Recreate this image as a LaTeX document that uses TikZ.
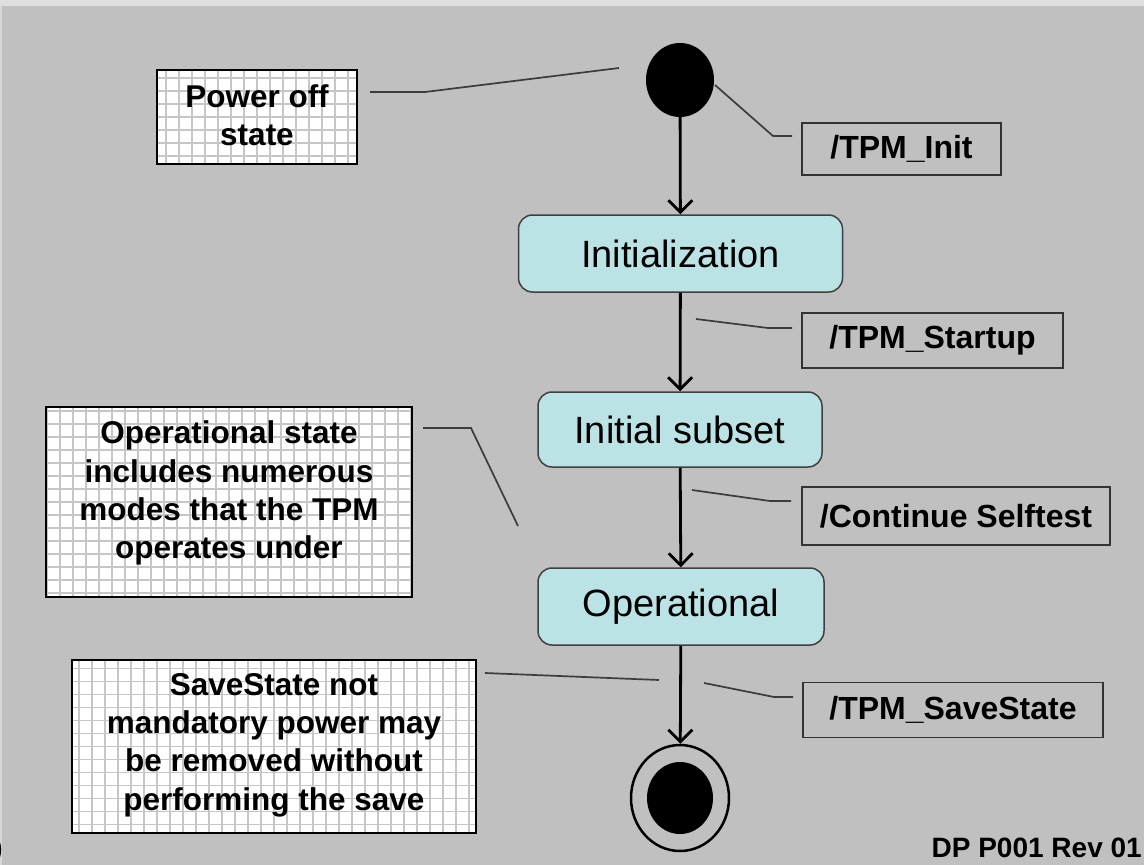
\documentclass[tikz,border=0pt]{standalone}
\usepackage{fontspec}
\setmainfont{Liberation Sans}
\usetikzlibrary{arrows.meta,shapes.geometric}
\definecolor{bg}{RGB}{192,192,192}
\definecolor{topstrip}{RGB}{223,223,223}
\definecolor{sidestrip}{RGB}{215,215,215}
\definecolor{statefill}{RGB}{187,226,229}
\definecolor{leader}{RGB}{60,60,60}
\definecolor{gridc}{RGB}{198,198,198}
\begin{document}
\begin{tikzpicture}[x=1pt,y=-1pt,
  state/.style={draw=black!75, line width=1.5pt, fill=statefill, rounded corners=14pt, inner sep=0pt, font=\fontsize{38}{42}\selectfont},
  callout/.style={draw=black!80, line width=1.5pt, inner sep=0pt, font=\bfseries\fontsize{32}{36}\selectfont},
  gridnote/.style={draw=black, line width=1.5pt, fill=white, inner sep=0pt,
    path picture={\draw[gridc, line width=1.2pt, step=13pt] (path picture bounding box.south west) grid (path picture bounding box.north east);}},
  notetext/.style={align=center, inner sep=0pt, font=\bfseries\fontsize{31.5}{38.3}\selectfont},
  flow/.style={line width=2.8pt, -{Straight Barb[length=12pt,width=24pt]}},
  lead/.style={draw=leader, line width=1.7pt},
]
% background
\fill[bg] (0,0) rectangle (1144,865);
\useasboundingbox (0,0) rectangle (1144,865);
\fill[topstrip] (0,0) rectangle (1144,6);
\fill[sidestrip] (0,6) rectangle (2,865);

% initial and final pseudo-states
\node[ellipse, fill=black, minimum width=68pt, minimum height=74pt, inner sep=0pt] (init) at (680,80) {};
\node[ellipse, draw=black, line width=2.5pt, minimum width=98pt, minimum height=106pt, inner sep=0pt] (final) at (680,798) {};
\node[ellipse, fill=black, minimum width=66pt, minimum height=72pt, inner sep=0pt] (finalin) at (680,798) {};

% states
\node[state, minimum width=324pt, minimum height=77pt] (s1) at (680.5,253.5) {Initialization};
\node[state, minimum width=284pt, minimum height=75pt] (s2) at (680,429.5) {Initial subset};
\node[state, minimum width=286pt, minimum height=77pt] (s3) at (681,606.5) {Operational};

% transitions
\draw[flow] (init) -- (s1);
\draw[flow] (s1) -- (s2);
\draw[flow] (s2) -- (s3);
\draw[flow] (s3) -- (final);

% callouts (right)
\node[callout, minimum width=199pt, minimum height=52pt] (c1) at (901.5,149) {/TPM\_Init};
\node[callout, minimum width=261pt, minimum height=55pt] (c2) at (932.5,340.5) {/TPM\_Startup};
\node[callout, minimum width=308pt, minimum height=58pt] (c3) at (956,516) {/Continue Selftest};
\node[callout, minimum width=300pt, minimum height=55pt] (c4) at (953,710) {/TPM\_SaveState};

\coordinate (c1a) at (715,85);  \coordinate (c1b) at (773,136); \coordinate (c1c) at (792,136);
\coordinate (c2a) at (696,319); \coordinate (c2b) at (768,328); \coordinate (c2c) at (792,328);
\coordinate (c3a) at (692,490); \coordinate (c3b) at (770,501); \coordinate (c3c) at (791,501);
\coordinate (c4a) at (704,683); \coordinate (c4b) at (774,697); \coordinate (c4c) at (793,697);
\draw[lead] (c1a) -- (c1b) -- (c1c);
\draw[lead] (c2a) -- (c2b) -- (c2c);
\draw[lead] (c3a) -- (c3b) -- (c3c);
\draw[lead] (c4a) -- (c4b) -- (c4c);

% notes (left)
\node[gridnote, minimum width=200pt, minimum height=94pt] (n1) at (257,117) {};
\node[notetext] (n1t) at (257,115) {Power off\\state};
\node[gridnote, minimum width=366pt, minimum height=190pt] (n2) at (229,502) {};
\node[notetext] (n2t) at (229,493) {Operational state\\includes numerous\\modes that the TPM\\operates under};
\node[gridnote, minimum width=404pt, minimum height=173pt] (n3) at (274,746.5) {};
\node[notetext] (n3t) at (274,745) {SaveState not\\mandatory power may\\be removed without\\performing the save};

\coordinate (n1a) at (370,92);  \coordinate (n1b) at (425,92);  \coordinate (n1c) at (619,68);
\coordinate (n2a) at (423,428); \coordinate (n2b) at (471,428); \coordinate (n2c) at (518,526);
\coordinate (n3a) at (485,673); \coordinate (n3b) at (659,680);
\draw[lead] (n1a) -- (n1b) -- (n1c);
\draw[lead] (n2a) -- (n2b) -- (n2c);
\draw[lead] (n3a) -- (n3b);

% footer
\node[anchor=base east, inner sep=0pt, font=\bfseries\fontsize{28}{32}\selectfont] (rev) at (1142,857) {DP P001 Rev 01};
\node[anchor=base east, inner sep=0pt, font=\bfseries\fontsize{28}{32}\selectfont] (cut) at (3,857) {)};
\end{tikzpicture}
\end{document}
